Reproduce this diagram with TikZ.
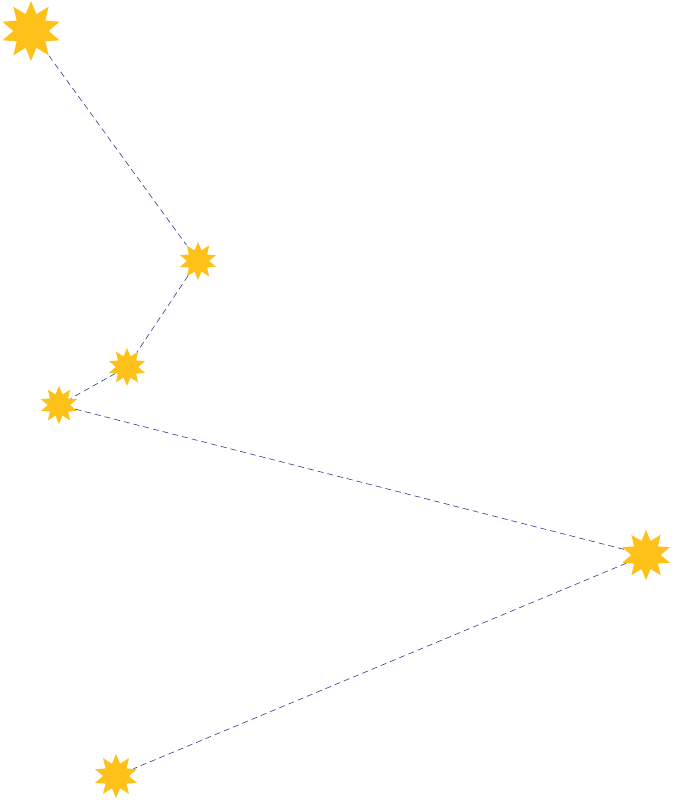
\documentclass[tikz,border=0pt]{standalone}
\usetikzlibrary{shapes.geometric}
\definecolor{staryel}{HTML}{FDC11A}
\definecolor{linblue}{HTML}{2E3A8C}
\begin{document}
\begin{tikzpicture}[x=1pt,y=-1pt,
  starnode/.style={star,star points=10,star point ratio=1.7,fill=staryel,draw=none,inner sep=0pt,minimum size=#1},
  link/.style={dashed,draw=linblue,line width=0.6pt,dash pattern=on 6pt off 4pt}]
\useasboundingbox (0,0) rectangle (673,800);
\node[starnode=60] (a) at (31,31) {};
\node[starnode=38] (b) at (198,261) {};
\node[starnode=38] (c) at (127,367) {};
\node[starnode=38] (d) at (59,405) {};
\node[starnode=50] (e) at (646,555) {};
\node[starnode=44] (f) at (116,776) {};
\begin{scope}[on background layer/.style={}]
\end{scope}
\draw[link] (a) -- (b) -- (c) -- (d) -- (e) -- (f);
\end{tikzpicture}
\end{document}
